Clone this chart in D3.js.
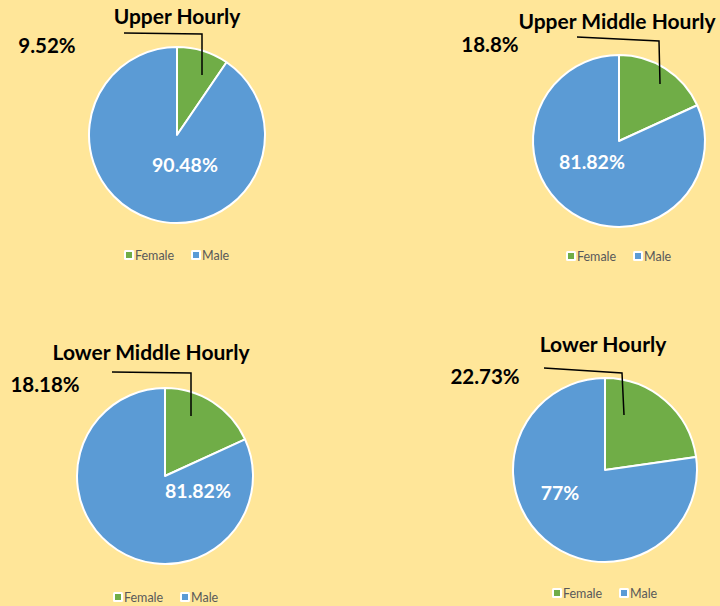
<!DOCTYPE html>
<html>
<head>
<meta charset="utf-8">
<script src="https://cdn.jsdelivr.net/npm/d3@7"></script>
<style>
  html, body { margin: 0; padding: 0; background: #FFE699; }
  svg { display: block; }
</style>
</head>
<body>
<div id="chart"></div>
<script>
// Chart values
const titles = ['Upper Hourly', 'Upper Middle Hourly', 'Lower Middle Hourly', 'Lower Hourly'];
const categories = ['Female', 'Male'];
const femaleValues = [9.52, 18.18, 18.18, 22.73];
const maleValues = [90.48, 81.82, 81.82, 77.27];
const femaleLabels = ['9.52%', '18.8%', '18.18%', '22.73%'];
const maleLabels = ['90.48%', '81.82%', '81.82%', '77%'];

const colors = { Female: '#70AD47', Male: '#5B9BD5' };

// Layout for each panel (Excel-like placement)
const panels = [
  { cx: 177, cy: 135, r: 88, title: [177, 24], fLabel: [47, 53], mLabel: [185, 172],
    leader: [[124, 33], [202, 34], [202, 75]], legend: [129, 255] },
  { cx: 619, cy: 141, r: 86, title: [617, 29], fLabel: [490, 52], mLabel: [592, 169],
    leader: [[577, 37], [659, 41], [660, 84]], legend: [571, 256] },
  { cx: 165, cy: 476, r: 88, title: [151, 360], fLabel: [45, 392], mLabel: [198, 498],
    leader: [[112, 372], [191, 373], [191, 416]], legend: [118, 597] },
  { cx: 605, cy: 470, r: 92, title: [603, 352], fLabel: [485, 384], mLabel: [560, 500],
    leader: [[544, 368], [622, 373], [624, 415]], legend: [557, 593] }
];

const W = 720, H = 606;
const svg = d3.select('#chart').append('svg')
  .attr('width', W)
  .attr('height', H)
  .style('font-family', 'Lato, "Open Sans", sans-serif');

svg.append('rect').attr('width', W).attr('height', H).attr('fill', '#FFE699');

const pie = d3.pie().sort(null).value(d => d.value);

panels.forEach((p, i) => {
  const data = [
    { key: categories[0], value: femaleValues[i] },
    { key: categories[1], value: maleValues[i] }
  ];
  const arc = d3.arc().innerRadius(0).outerRadius(p.r);
  const g = svg.append('g').attr('transform', `translate(${p.cx},${p.cy})`);

  g.selectAll('path')
    .data(pie(data))
    .join('path')
    .attr('d', arc)
    .attr('fill', d => colors[d.data.key])
    .attr('stroke', '#fff')
    .attr('stroke-width', 2)
    .attr('stroke-linejoin', 'round');

  // title
  svg.append('text')
    .attr('x', p.title[0])
    .attr('y', p.title[1])
    .attr('text-anchor', 'middle')
    .style('font-size', '21px')
    .style('font-weight', 'bold')
    .attr('fill', '#000')
    .text(titles[i]);

  // leader line for the female label
  svg.append('path')
    .attr('d', d3.line()(p.leader))
    .attr('fill', 'none')
    .attr('stroke', '#000')
    .attr('stroke-width', 1.5);

  svg.append('text')
    .attr('x', p.fLabel[0])
    .attr('y', p.fLabel[1])
    .attr('text-anchor', 'middle')
    .style('font-size', '20.5px')
    .style('font-weight', 'bold')
    .attr('fill', '#000')
    .text(femaleLabels[i]);

  svg.append('text')
    .attr('x', p.mLabel[0])
    .attr('y', p.mLabel[1])
    .attr('text-anchor', 'middle')
    .style('font-size', '19.5px')
    .style('font-weight', 'bold')
    .attr('fill', '#fff')
    .text(maleLabels[i]);

  // legend
  const lg = svg.append('g').attr('transform', `translate(${p.legend[0]},${p.legend[1]})`);
  const item = lg.selectAll('g')
    .data(categories)
    .join('g')
    .attr('transform', (d, j) => `translate(${j * 67},0)`);
  item.append('rect')
    .attr('x', -5).attr('y', -5).attr('width', 10).attr('height', 10)
    .attr('rx', 1.5)
    .attr('fill', '#fff');
  item.append('rect')
    .attr('x', -3).attr('y', -3).attr('width', 6).attr('height', 6)
    .attr('fill', d => colors[d]);
  item.append('text')
    .attr('x', 6)
    .attr('y', 4.5)
    .style('font-size', '12.5px')
    .attr('fill', '#595959')
    .text(d => d);
});
</script>
</body>
</html>
